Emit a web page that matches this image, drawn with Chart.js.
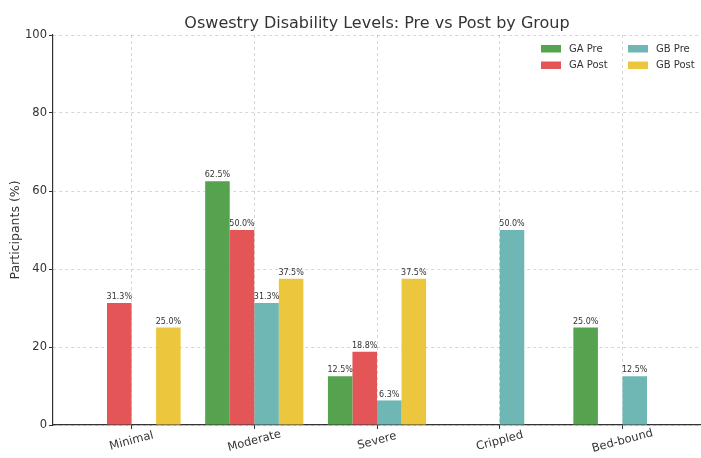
<!DOCTYPE html>
<html>
<head>
<meta charset="utf-8">
<script src="https://cdn.jsdelivr.net/npm/chart.js@4.4.1/dist/chart.umd.min.js"></script>
<style>
  html, body { margin: 0; padding: 0; background: #fff; }
  #wrap { width: 701px; height: 458px; position: relative; }
</style>
</head>
<body>
<div id="wrap"><canvas id="chart"></canvas></div>
<script>
// Oswestry disability levels, share of participants (%)
const categories = ['Minimal', 'Moderate', 'Severe', 'Crippled', 'Bed-bound'];
const seriesNames = ['GA Pre', 'GA Post', 'GB Pre', 'GB Post'];
const gaPre  = [0, 62.5, 12.5, 0, 25.0];
const gaPost = [31.3, 50.0, 18.8, 0, 0];
const gbPre  = [0, 31.3, 6.3, 50.0, 12.5];
const gbPost = [25.0, 37.5, 37.5, 0, 0];
const yTicks = [0, 20, 40, 60, 80, 100];
const titleText = 'Oswestry Disability Levels: Pre vs Post by Group';
const yTitle = 'Participants (%)';

const colors = ['#55a34f', '#e35556', '#6fb7b4', '#ecc63d'];
const FONT = "'DejaVu Sans', sans-serif";
const TEXT = '#333333';
const GRID = 'rgba(0,0,0,0.16)';

const seriesValues = [gaPre, gaPost, gbPre, gbPost];
const datasets = seriesNames.map((name, s) => ({
  label: name,
  data: seriesValues[s].map((v, i) => ({ x: i, y: v })),
  backgroundColor: colors[s],
  borderWidth: 0,
  barPercentage: 1.0,
  categoryPercentage: 0.8
}));

// Value labels above every non-zero bar
const valueLabels = {
  id: 'valueLabels',
  afterDatasetsDraw(chart) {
    const ctx = chart.ctx;
    ctx.save();
    ctx.font = '8px ' + FONT;
    ctx.fillStyle = TEXT;
    ctx.textAlign = 'center';
    ctx.textBaseline = 'bottom';
    chart.data.datasets.forEach((ds, di) => {
      const meta = chart.getDatasetMeta(di);
      meta.data.forEach((bar, i) => {
        const v = ds.data[i].y;
        if (v > 0) ctx.fillText(v.toFixed(1) + '%', bar.x, bar.y - 2);
      });
    });
    ctx.restore();
  }
};

// Title, rotated category labels and a two-column legend
const decorations = {
  id: 'decorations',
  afterDraw(chart) {
    const ctx = chart.ctx;
    const area = chart.chartArea;
    const xs = chart.scales.x;
    ctx.save();
    ctx.fillStyle = TEXT;
    ctx.font = '16px ' + FONT;
    ctx.textAlign = 'center';
    ctx.textBaseline = 'alphabetic';
    ctx.fillText(titleText, (area.left + area.right) / 2, 28);

    ctx.font = '11.5px ' + FONT;
    ctx.textBaseline = 'middle';
    categories.forEach((c, i) => {
      const x = xs.getPixelForValue(i);
      ctx.save();
      ctx.translate(x, 441);
      ctx.rotate(-15 * Math.PI / 180);
      ctx.fillText(c, 0, 0);
      ctx.restore();
    });

    // legend: column-major, two rows
    ctx.font = '10px ' + FONT;
    ctx.textAlign = 'left';
    const colX = [541, 628];
    const rowY = [49, 65.5];
    seriesNames.forEach((name, s) => {
      const col = Math.floor(s / 2), row = s % 2;
      ctx.fillStyle = colors[s];
      ctx.fillRect(colX[col], rowY[row] - 4, 20, 7.5);
      ctx.fillStyle = TEXT;
      ctx.fillText(name, colX[col] + 28, rowY[row]);
    });
    ctx.restore();
  }
};

new Chart(document.getElementById('chart'), {
  type: 'bar',
  data: { datasets },
  plugins: [valueLabels, decorations],
  options: {
    responsive: true,
    maintainAspectRatio: false,
    animation: false,
    layout: { padding: { top: 35, left: 0, right: 0, bottom: 0 } },
    plugins: {
      legend: { display: false },
      title: { display: false },
      tooltip: { enabled: false }
    },
    scales: {
      x: {
        type: 'linear',
        min: -0.64,
        max: 4.64,
        offset: false,
        afterBuildTicks(scale) {
          scale.ticks = categories.map((c, i) => ({ value: i }));
        },
        afterFit(scale) {
          scale.height = 33;
          scale.paddingLeft = 0; scale.paddingRight = 0;
        },
        ticks: { display: false },
        grid: {
          offset: false,
          color: GRID,
          tickLength: 4,
          tickColor: '#333',
          tickBorderDash: [],
          drawTicks: true
        },
        border: { display: true, color: '#333', width: 1.2, dash: [3, 3] }
      },
      y: {
        min: 0,
        max: 100,
        afterBuildTicks(scale) {
          scale.ticks = yTicks.map(v => ({ value: v }));
        },
        afterFit(scale) {
          scale.width = 53;
          scale.paddingTop = 0; scale.paddingBottom = 0;
        },
        ticks: {
          color: TEXT,
          font: { family: FONT, size: 11.5 },
          padding: 2
        },
        grid: {
          color: GRID,
          tickLength: 4,
          tickColor: '#333',
          tickBorderDash: []
        },
        border: { display: true, color: '#333', width: 1.2, dash: [3, 3] },
        title: {
          display: true,
          text: yTitle,
          color: TEXT,
          font: { family: FONT, size: 12.5 },
          padding: { top: 8, bottom: 0 }
        }
      }
    }
  }
});
</script>
</body>
</html>
